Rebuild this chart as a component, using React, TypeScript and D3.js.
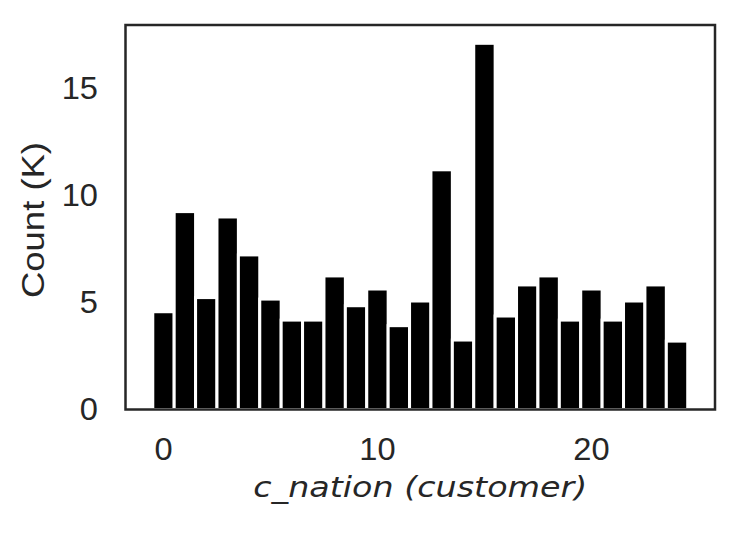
import React, { useEffect, useRef } from 'react';
import * as d3 from 'd3';

// customer nation ids and their row counts (thousands)
const nations = d3.range(25);
const counts = [
  4.56, 9.23, 5.22, 8.98, 7.21, 5.15, 4.17, 4.17, 6.23, 4.84,
  5.62, 3.91, 5.06, 11.18, 3.24, 17.08, 4.36, 5.81, 6.23, 4.17,
  5.62, 4.17, 5.06, 5.81, 3.19,
];
const xTicks = [0, 10, 20];
const yTicks = [0, 5, 10, 15];

const W = 741, H = 536;
const margin = { top: 25, right: 26, bottom: 126.5, left: 125.5 };
const ink = '#262626';
const sans = 'Liberation Sans, Arial, sans-serif';

const App = () => {
  const ref = useRef<SVGSVGElement>(null);

  useEffect(() => {
    const svg = d3.select(ref.current);
    svg.selectAll('*').remove();

    const width = W - margin.left - margin.right;
    const height = H - margin.top - margin.bottom;

    const x = d3.scaleLinear().domain([-1.775, 25.775]).range([0, width]);
    const y = d3.scaleLinear().domain([0, d3.max(counts)! * 1.05]).range([height, 0]);

    const g = svg.append('g')
      .attr('transform', `translate(${margin.left},${margin.top})`);

    g.selectAll('.bar')
      .data(nations)
      .enter()
      .append('rect')
      .attr('class', 'bar')
      .attr('x', d => x(d - 0.5))
      .attr('width', x(1) - x(0))
      .attr('y', d => y(counts[d]))
      .attr('height', d => y(0) - y(counts[d]))
      .attr('fill', '#000')
      .attr('stroke', '#fff')
      .attr('stroke-width', 3);

    // frame
    g.append('rect')
      .attr('width', width)
      .attr('height', height)
      .attr('fill', 'none')
      .attr('stroke', ink)
      .attr('stroke-width', 2.5);

    g.selectAll('.xt')
      .data(xTicks)
      .enter()
      .append('text')
      .attr('transform', d => `translate(${x(d)},${height + 50.5}) scale(1.07,1)`)
      .attr('text-anchor', 'middle')
      .attr('font-family', sans)
      .attr('font-size', 30.5)
      .attr('fill', ink)
      .text(d => d);

    g.selectAll('.yt')
      .data(yTicks)
      .enter()
      .append('text')
      .attr('transform', d => `translate(-27.5,${y(d) + 10.9}) scale(1.07,1)`)
      .attr('text-anchor', 'end')
      .attr('font-family', sans)
      .attr('font-size', 30.5)
      .attr('fill', ink)
      .text(d => d);

    g.append('text')
      .attr('transform', `translate(-82,195) rotate(-90) scale(1.14,1)`)
      .attr('text-anchor', 'middle')
      .attr('font-family', sans)
      .attr('font-size', 32)
      .attr('fill', ink)
      .text('Count (K)');

    g.append('text')
      .attr('transform', `translate(${width / 2},${height + 87}) scale(1.15,1)`)
      .attr('text-anchor', 'middle')
      .attr('font-family', 'DejaVu Sans, sans-serif')
      .attr('font-style', 'italic')
      .attr('font-size', 29)
      .attr('fill', ink)
      .text('c_nation (customer)');
  }, []);

  return (
    <svg
      ref={ref}
      width={W}
      height={H}
      style={{ position: 'absolute', left: 0, top: 0, background: '#fff' }}
    />
  );
};

export default App;
